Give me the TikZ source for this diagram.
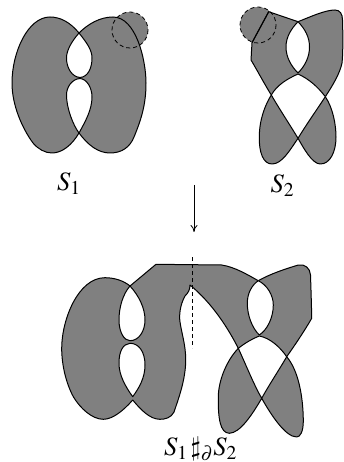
\documentclass[tikz,border=0pt]{standalone}
\usepackage{mathptmx}
\usetikzlibrary{arrows.meta}
\definecolor{surfgray}{gray}{0.5}
\tikzset{
  surface/.style={
    draw,
    fill=surfgray,
    line width=1pt,
    line join=round
  },
  hole/.style={
    surface,
    fill=white
  },
  cutdisk/.style={
    draw,
    dash pattern=on 4pt off 3pt,
    line width=0.8pt
  },
  surflabel/.style={
    anchor=base,
    inner sep=0pt,
    font=\fontsize{26.5}{28}\selectfont
  },
}
\begin{document}
\begin{tikzpicture}[x=1pt,y=-1pt]
\useasboundingbox (0,0) rectangle (343,462);
% S1
\fill[surfgray] (130,30) circle (18);
\path[surface] (79,33) .. controls (70,22) and (60,17) .. (50,17) .. controls (28,17) and (12,52) .. (12,83)
  .. controls (12,105) and (22,128) .. (33,143) .. controls (38,149) and (45,153) .. (52,153)
  .. controls (62,153) and (72,145) .. (79,133) .. controls (88,145) and (98,153) .. (110,153)
  .. controls (122,153) and (130,147) .. (134,137) .. controls (141,120) and (146,105) .. (146,83)
  .. controls (146,60) and (136,17) .. (113,17) .. controls (100,17) and (88,24) .. (79,33) -- cycle;
\path[hole] (79,33) .. controls (87,43) and (92,50) .. (92,58) .. controls (92,68) and (88,77) .. (80,77.5)
  .. controls (72,77) and (66.5,68) .. (66.5,58) .. controls (66.5,50) and (72,41) .. (79,33) -- cycle;
\path[hole] (80,78.5) .. controls (87,79) and (92,88) .. (92,97) .. controls (92,110) and (85,122) .. (79,133)
  .. controls (73,125) and (66.5,108) .. (66.5,95) .. controls (66.5,87) and (72,79) .. (80,78.5) -- cycle;
\draw[cutdisk] (130,30) circle (18);
% S2
\fill[surfgray] (258,25) circle (18);
\path[surface] (268.7,11.7) -- (298,21.7) .. controls (310,17) and (325,10) .. (335,10)
  .. controls (340,10) and (342.5,14) .. (342.5,20) .. controls (343,35) and (343,55) .. (342,63)
  .. controls (340,73) and (333,85) .. (325.3,96.7) .. controls (333,108) and (336,125) .. (336,137)
  .. controls (336,152) and (330,164) .. (320.3,164) .. controls (312,164) and (303,147) .. (298,138.3)
  .. controls (290,150) and (282,164) .. (272,164) .. controls (263,164) and (259,152) .. (259.3,137)
  .. controls (259.3,120) and (265,105) .. (271.3,95) .. controls (265,85) and (257,70) .. (251,60)
  -- (252,42.7) -- cycle;
\path[hole] (298,21.7) .. controls (305,29) and (309.5,37) .. (309.5,47) .. controls (309.5,57) and (305,66) .. (298,73)
  .. controls (291,66) and (286,57) .. (286,47) .. controls (286,37) and (291,29) .. (298,21.7) -- cycle;
\path[hole] (271.3,95) .. controls (277,85) and (287,79) .. (298,74) .. controls (309,79) and (318,87) .. (325.3,96.7)
  .. controls (318,108) and (306,125) .. (298,138.3) .. controls (290,125) and (280,110) .. (271.3,95) -- cycle;
\draw[cutdisk] (258,25) circle (18);
% arrow
\coordinate (arrowtop) at (194,185);
\coordinate (arrowend) at (194,232);
\draw[-{To[length=7pt,width=7pt]},line width=0.8pt] (arrowtop) -- (arrowend);
% S1 # S2
\path[surface] (130,286) -- (156,264.3) -- (221.7,265) .. controls (235,267) and (248,275) .. (258.3,280.7)
  .. controls (270,274) and (285,269) .. (298.3,265) .. controls (305,264) and (310,268) .. (310.5,275)
  .. controls (311,290) and (311.5,305) .. (311.7,318.3) .. controls (305,330) and (295,345) .. (286.7,356.7)
  .. controls (298,370) and (303,395) .. (303.3,420) .. controls (303.5,432) and (300,437) .. (296.7,437)
  .. controls (285,437) and (270,413) .. (261.7,398.3) .. controls (252,415) and (240,433) .. (229.3,433.3)
  .. controls (220,433) and (218,418) .. (218.3,396.7) .. controls (218.5,380) and (227,360) .. (238.3,348.3)
  .. controls (228,328) and (212,303) .. (190,285) .. controls (190,290) and (188,293) .. (185,296)
  .. controls (180,305) and (179,315) .. (180,322) .. controls (182,335) and (185.7,345) .. (185.7,360)
  .. controls (185.7,380) and (178,400) .. (174,412) .. controls (171,418) and (165,419.3) .. (160,419.3)
  .. controls (150,419.3) and (141,410) .. (132.7,400) .. controls (124,410) and (113,419.3) .. (103.3,419.3)
  .. controls (92,419.3) and (80,408) .. (73.3,396.7) .. controls (66,383) and (61.7,365) .. (61.7,348.3)
  .. controls (61.7,320) and (78,277.7) .. (105,277.7) .. controls (115,277.7) and (124,281) .. (130,286) -- cycle;
\path[hole] (130,286) .. controls (139,296) and (145,308) .. (145,320) .. controls (145,331) and (139,340.7) .. (130,340.7)
  .. controls (124,340.7) and (119,332) .. (119,320) .. controls (119,307) and (123,294) .. (130,286) -- cycle;
\path[hole] (130,343.3) .. controls (139,343.3) and (145,352) .. (145,365) .. controls (145,378) and (139,388) .. (132.7,396.7)
  .. controls (125,386) and (119,375) .. (119,363.3) .. controls (119,351) and (123,344) .. (130,343.3) -- cycle;
\path[hole] (258.3,280.7) .. controls (267,285) and (273.3,295) .. (273.3,305) .. controls (273.3,318) and (267,330) .. (259.3,335)
  .. controls (252,328) and (247.3,315) .. (247.3,303.3) .. controls (247.3,293) and (252,285) .. (258.3,280.7) -- cycle;
\path[hole] (238.3,348.3) .. controls (245,343) and (252,339) .. (259.3,336) .. controls (270,338) and (280,347) .. (286.7,356.7)
  .. controls (279,370) and (269,385) .. (261.7,398.3) .. controls (254,385) and (246,365) .. (238.3,348.3) -- cycle;
\coordinate (cuttop) at (192.7,257);
\coordinate (cutend) at (192.7,348);
\draw[cutdisk] (cuttop) -- (cutend);
% chord on S2
\coordinate (chorda) at (268.7,11.7);
\coordinate (chordb) at (252,42.7);
\draw[line width=1pt] (chorda) -- (chordb);
% labels
\node[surflabel] (labelone) at (69,190.5) {$S_1$};
\node[surflabel] (labeltwo) at (282.5,192.5) {$S_2$};
\node[surflabel] (labelsum) at (200.5,455) {$S_1\,\sharp_\partial S_2$};
\end{tikzpicture}
\end{document}
